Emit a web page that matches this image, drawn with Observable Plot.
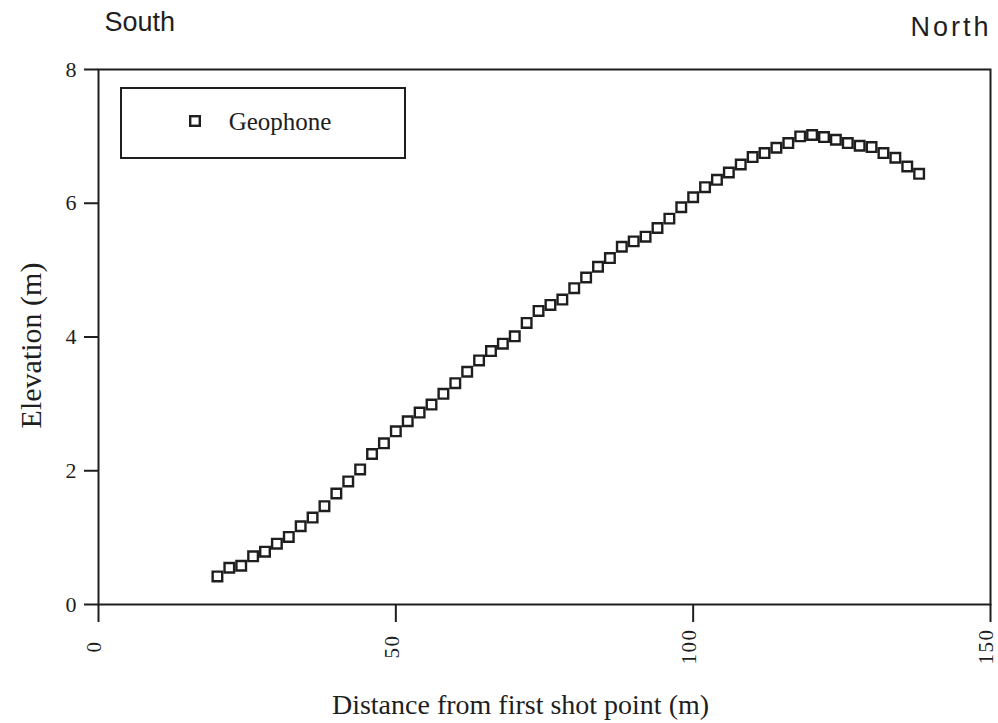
<!DOCTYPE html>
<html>
<head>
<meta charset="utf-8">
<script src="https://cdn.jsdelivr.net/npm/d3@7"></script>
<script src="https://cdn.jsdelivr.net/npm/@observablehq/plot@0.6"></script>
<style>
  html, body { margin: 0; padding: 0; background: white; }
  #chart { position: relative; width: 998px; height: 723px; }
</style>
</head>
<body>
<div id="chart"></div>
<script>
// Geophone positions (distance from first shot point, m)
const distance = [20, 22, 24, 26, 28, 30, 32, 34, 36, 38,
                  40, 42, 44, 46, 48, 50, 52, 54, 56, 58,
                  60, 62, 64, 66, 68, 70, 72, 74, 76, 78,
                  80, 82, 84, 86, 88, 90, 92, 94, 96, 98,
                  100, 102, 104, 106, 108, 110, 112, 114, 116, 118,
                  120, 122, 124, 126, 128, 130, 132, 134, 136, 138];
// Elevation (m)
const elevation = [0.42, 0.55, 0.58, 0.72, 0.79, 0.91, 1.01, 1.17, 1.30, 1.47,
                   1.66, 1.84, 2.02, 2.25, 2.41, 2.59, 2.74, 2.87, 2.99, 3.15,
                   3.31, 3.48, 3.65, 3.79, 3.90, 4.01, 4.21, 4.39, 4.48, 4.56,
                   4.73, 4.89, 5.05, 5.18, 5.35, 5.43, 5.50, 5.63, 5.77, 5.94,
                   6.09, 6.24, 6.35, 6.46, 6.58, 6.69, 6.75, 6.83, 6.90, 7.00,
                   7.02, 6.99, 6.95, 6.90, 6.86, 6.84, 6.75, 6.68, 6.55, 6.44];
const xTicks = [0, 50, 100, 150];
const yTicks = [0, 2, 4, 6, 8];
const seriesName = "Geophone";
const xTitle = "Distance from first shot point (m)";
const yTitle = "Elevation (m)";
const leftNote = "South";
const rightNote = "North";

const data = distance.map((d, i) => ({distance: d, elevation: elevation[i]}));
const ink = "#1e1e1e";
const serif = "Liberation Serif, Times New Roman, serif";
const sans = "Liberation Sans, Arial, sans-serif";
const markerR = 5.4;

const plot = Plot.plot({
  width: 998,
  height: 723,
  marginLeft: 98,
  marginRight: 8,
  marginTop: 69,
  marginBottom: 119,
  style: {fontFamily: serif, color: ink, background: "white"},
  x: {domain: [0, 150]},
  y: {domain: [0, 8]},
  marks: [
    Plot.axisY({ticks: yTicks, tickSize: 14, tickPadding: 8, strokeWidth: 2, stroke: ink,
                fontSize: 22, fontFamily: serif, fill: ink, label: null}),
    Plot.axisX({ticks: xTicks, tickSize: 18, strokeWidth: 2, stroke: ink,
                tickFormat: () => "", label: null}),
    Plot.text(xTicks, {x: d => d, text: d => String(d), frameAnchor: "bottom",
                       dy: 42, dx: -4, rotate: -90, textAnchor: "middle", lineAnchor: "middle",
                       fontSize: 21, fontFamily: serif, fill: ink}),
    Plot.frame({stroke: ink, strokeWidth: 2}),
    Plot.dot(data, {x: "distance", y: "elevation", symbol: "square", r: markerR,
                    stroke: ink, strokeWidth: 2.4, fill: "none"}),
    Plot.text([xTitle], {text: d => d, frameAnchor: "bottom", dy: 109, dx: -24,
                         lineAnchor: "bottom", textAnchor: "middle",
                         fontSize: 28, fontFamily: serif, fill: ink}),
    Plot.text([yTitle], {text: d => d, frameAnchor: "left", dx: -58, dy: 8.5, rotate: -90,
                         lineAnchor: "bottom", textAnchor: "middle",
                         fontSize: 30, fontFamily: serif, fill: ink}),
    Plot.text([leftNote], {text: d => d, frameAnchor: "top-left", dx: 6, dy: -38.3,
                           lineAnchor: "bottom", textAnchor: "start",
                           fontSize: 27, fontFamily: sans, fill: ink}),
    Plot.text([rightNote], {text: d => d, frameAnchor: "top-right", dx: 1, dy: -33.3,
                            lineAnchor: "bottom", textAnchor: "end",
                            fontSize: 27, fontFamily: sans, fill: ink})
  ]
});

const svg = d3.select(plot);
// letter spacing for the "North" note and the rotated x tick labels
svg.selectAll("text").each(function() {
  const t = this.textContent;
  if (t === rightNote) d3.select(this).style("letter-spacing", "3px");
  if (xTicks.map(String).includes(t) && this.getAttribute("transform") &&
      this.getAttribute("transform").includes("rotate")) {
    d3.select(this).style("letter-spacing", "1.5px");
  }
});

// Legend box drawn inside the plot's SVG
const lg = svg.append("g").attr("class", "legend");
lg.append("rect").attr("x", 121).attr("y", 88).attr("width", 284).attr("height", 70)
  .attr("fill", "none").attr("stroke", ink).attr("stroke-width", 2);
const side = Math.sqrt(Math.PI) * markerR;
lg.append("rect").attr("x", 195 - side / 2).attr("y", 121 - side / 2)
  .attr("width", side).attr("height", side)
  .attr("fill", "none").attr("stroke", ink).attr("stroke-width", 2.4);
lg.append("text").attr("x", 280).attr("y", 130).text(seriesName)
  .attr("font-family", serif).attr("font-size", 25).attr("fill", ink);

document.getElementById("chart").appendChild(plot);
</script>
</body>
</html>
